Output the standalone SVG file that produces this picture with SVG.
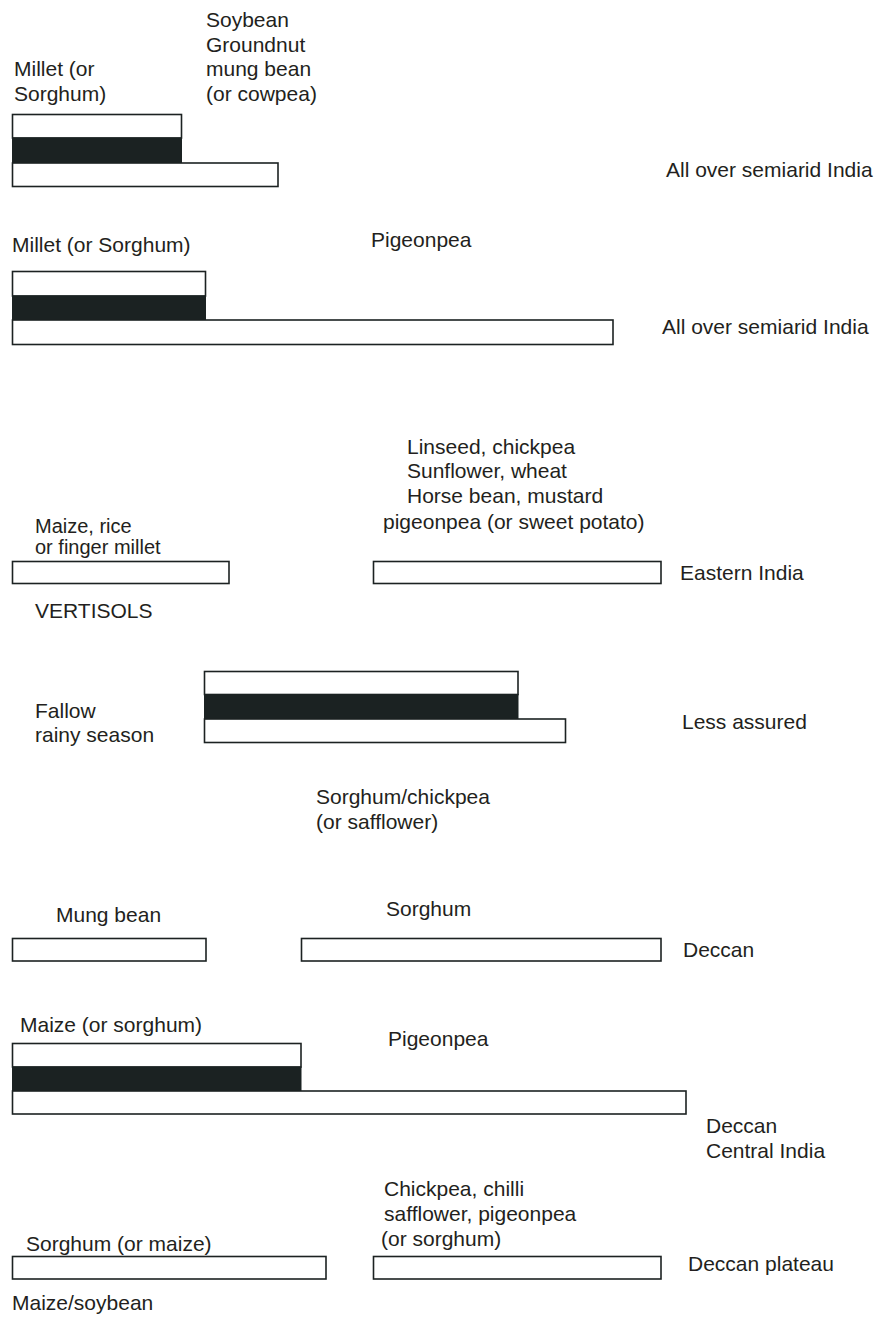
<svg xmlns="http://www.w3.org/2000/svg" width="878" height="1320" viewBox="0 0 878 1320">
<style>
text{font-family:"Liberation Sans",Arial,Helvetica,sans-serif;font-size:21px;fill:#231f20}
text.s{font-size:20px}
.w{fill:#ffffff;stroke:#1c2222;stroke-width:1.6}
.b{fill:#1b2222;stroke:#1b2222;stroke-width:1}
</style>
<rect width="878" height="1320" fill="#ffffff"/>
<g id="row1">
<text x="206" y="27">Soybean</text>
<text x="206" y="52">Groundnut</text>
<text x="206" y="76">mung bean</text>
<text x="206" y="101">(or cowpea)</text>
<text x="14" y="76">Millet (or</text>
<text x="14" y="101">Sorghum)</text>
<rect class="w" x="12.5" y="114.5" width="169" height="23.5"/>
<rect class="b" x="12.5" y="138" width="169" height="25"/>
<rect class="w" x="12.5" y="163" width="265.5" height="23.5"/>
<text x="666" y="177">All over semiarid India</text>
</g>
<g id="row2">
<text x="12" y="252">Millet (or Sorghum)</text>
<text x="371" y="247">Pigeonpea</text>
<rect class="w" x="12.5" y="271.5" width="193" height="24.5"/>
<rect class="b" x="12.5" y="296" width="193" height="24"/>
<rect class="w" x="12.5" y="320" width="600.5" height="24.5"/>
<text x="662" y="334">All over semiarid India</text>
</g>
<g id="row3">
<text x="407" y="454">Linseed, chickpea</text>
<text x="407" y="478">Sunflower, wheat</text>
<text x="407" y="503">Horse bean, mustard</text>
<text x="383" y="529">pigeonpea (or sweet potato)</text>
<text class="s" x="35" y="533">Maize, rice</text>
<text class="s" x="35" y="554">or finger millet</text>
<rect class="w" x="12.5" y="561.5" width="216.5" height="22"/>
<rect class="w" x="373.5" y="561.5" width="287.5" height="22"/>
<text x="680" y="580">Eastern India</text>
<text x="35" y="618">VERTISOLS</text>
</g>
<g id="row4">
<rect class="w" x="204.5" y="671.5" width="313.5" height="23"/>
<rect class="b" x="204.5" y="694.5" width="313.5" height="24.5"/>
<rect class="w" x="204.5" y="719" width="361" height="23.5"/>
<text x="35" y="718">Fallow</text>
<text x="35" y="742">rainy season</text>
<text x="682" y="729">Less assured</text>
<text x="316" y="804">Sorghum/chickpea</text>
<text x="316" y="829">(or safflower)</text>
</g>
<g id="row5">
<text x="56" y="922">Mung bean</text>
<text x="386" y="916">Sorghum</text>
<rect class="w" x="12.5" y="938.5" width="193.5" height="22.5"/>
<rect class="w" x="301.5" y="938.5" width="359.5" height="22.5"/>
<text x="683" y="957">Deccan</text>
</g>
<g id="row6">
<text x="20" y="1032">Maize (or sorghum)</text>
<text x="388" y="1046">Pigeonpea</text>
<rect class="w" x="12.5" y="1043.5" width="288.5" height="23.5"/>
<rect class="b" x="12.5" y="1067" width="288.5" height="24"/>
<rect class="w" x="12.5" y="1091" width="673.5" height="23"/>
<text x="706" y="1133">Deccan</text>
<text x="706" y="1158">Central India</text>
</g>
<g id="row7">
<text x="384" y="1196">Chickpea, chilli</text>
<text x="384" y="1221">safflower, pigeonpea</text>
<text x="381" y="1246">(or sorghum)</text>
<text x="26" y="1251">Sorghum (or maize)</text>
<rect class="w" x="12.5" y="1256.5" width="313.5" height="22.5"/>
<rect class="w" x="373.5" y="1256.5" width="287.5" height="22.5"/>
<text x="688" y="1271">Deccan plateau</text>
<text x="12" y="1310">Maize/soybean</text>
</g>
</svg>
